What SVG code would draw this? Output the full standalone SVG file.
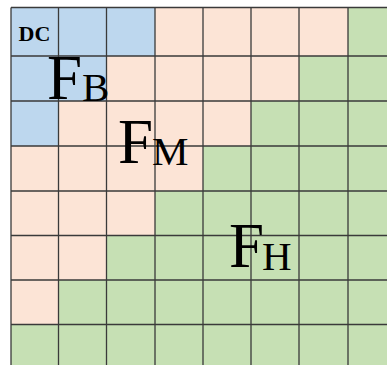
<svg xmlns="http://www.w3.org/2000/svg" width="387" height="365" viewBox="0 0 387 365">
  <style>
    .blue { fill: #BDD7EE; }
    .peach { fill: #FCE4D6; }
    .green { fill: #C6E0B4; }
    .grid { fill: none; stroke: #3a3a3a; stroke-width: 1.3; }
    .big { font-family: "Liberation Serif", "Times New Roman", serif; font-size: 63px; fill: #000; }
    .sub { font-size: 41px; }
    .dc { font-family: "Liberation Serif", "Times New Roman", serif; font-size: 22px; font-weight: bold; fill: #000; }
  </style>
  <rect width="387" height="365" fill="#ffffff"/>
  <g id="region-blue">
    <polygon class="blue" points="11,7.5 155,7.5 155,56 106.5,56 106.5,101 58.5,101 58.5,146 11,146"/>
  </g>
  <g id="region-peach">
    <polygon class="peach" points="155,7.5 348,7.5 348,56 299,56 299,101 251,101 251,146 203,146 203,191 155,191 155,235.5 106.5,235.5 106.5,280 58.5,280 58.5,324.5 11,324.5 11,146 58.5,146 58.5,101 106.5,101 106.5,56 155,56"/>
  </g>
  <g id="region-green">
    <polygon class="green" points="348,7.5 396,7.5 396,369 11,369 11,324.5 58.5,324.5 58.5,280 106.5,280 106.5,235.5 155,235.5 155,191 203,191 203,146 251,146 251,101 299,101 299,56 348,56"/>
  </g>
  <g id="grid-lines">
    <path class="grid" d="M11,7.5V369 M58.5,7.5V369 M106.5,7.5V369 M155,7.5V369 M203,7.5V369 M251,7.5V369 M299,7.5V369 M348,7.5V369
      M11,7.5H396 M11,56H396 M11,101H396 M11,146H396 M11,191H396 M11,235.5H396 M11,280H396 M11,324.5H396"/>
  </g>
  <g id="label-dc">
    <text class="dc" x="18.5" y="40.7">DC</text>
  </g>
  <g id="label-fb">
    <text class="big" x="47" y="99">F<tspan class="sub" x="82" y="101">B</tspan></text>
  </g>
  <g id="label-fm">
    <text class="big" x="118" y="163">F<tspan class="sub" x="152" y="165">M</tspan></text>
  </g>
  <g id="label-fh">
    <text class="big" x="229" y="266.7">F<tspan class="sub" x="262" y="270">H</tspan></text>
  </g>
</svg>
